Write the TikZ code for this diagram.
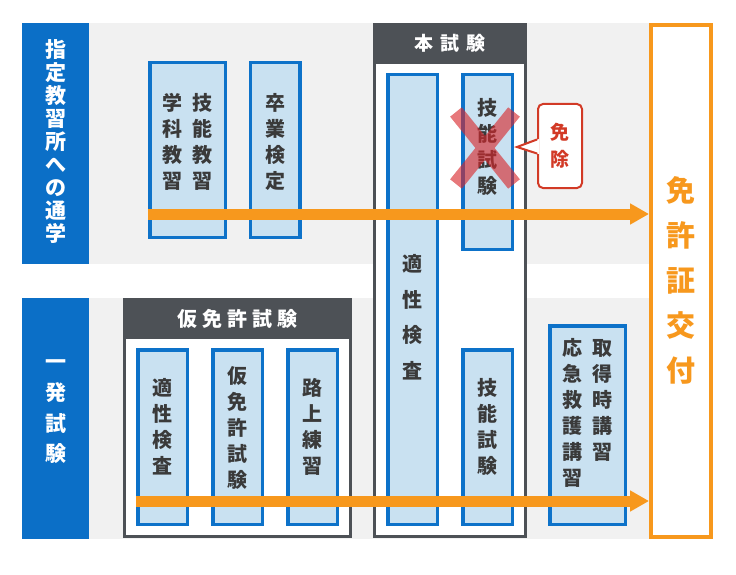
\documentclass[tikz,border=0pt]{standalone}
\usepackage{fontspec}
\setmainfont{Noto Sans CJK JP}
\usetikzlibrary{arrows.meta}
\definecolor{lblblue}{HTML}{0B6FC7}
\definecolor{boxblue}{HTML}{0D72C9}
\definecolor{boxfill}{HTML}{C9E1F1}
\definecolor{bggray}{HTML}{F1F1F1}
\definecolor{darkhead}{HTML}{4D5156}
\definecolor{lorange}{HTML}{F7981D}
\definecolor{xred}{HTML}{D9262A}
\definecolor{cred}{HTML}{D23A26}
\definecolor{txtgray}{HTML}{3A3A3A}
\begin{document}
\begin{tikzpicture}[x=1pt,y=-1pt,
  bbox/.style={draw=boxblue, fill=boxfill, line width=3.5pt, inner sep=0pt, rectangle},
  narrowbox/.style={bbox, minimum width=49.5pt},
  widebox/.style={bbox, minimum width=75.5pt},
  vtxt/.style={text=txtgray, font=\bfseries\fontsize{20}{26}\selectfont, align=center, inner sep=0pt},
  lbl/.style={fill=lblblue, inner sep=0pt, minimum width=67pt, minimum height=241pt, text=white, align=center},
  lbltxt/.style={text=white, align=center, inner sep=0pt},
  grpframe/.style={draw=darkhead, line width=3pt, fill=white, inner sep=0pt, minimum width=151pt, minimum height=237pt},
  grphead/.style={fill=darkhead, text=white, inner sep=0pt, font=\bfseries\fontsize{19}{22}\selectfont},
  licbox/.style={draw=lorange, line width=4pt, fill=white, inner sep=0pt, minimum width=60pt, minimum height=512pt},
  oarrow/.style={draw=lorange, line width=11pt, -{Triangle[length=19pt,width=20pt]}},
  xmark/.style={draw=xred, line width=15pt, opacity=0.62},
  callout/.style={draw=cred, line width=2pt, fill=white, rounded corners=5pt, inner sep=0pt, minimum width=44pt, minimum height=84pt, text=cred, align=center, font=\bfseries\fontsize{19}{27}\selectfont}
]
\useasboundingbox (0,0) rectangle (736,575);
\fill[white] (0,0) rectangle (736,575);
% background bands
\fill[bggray] (89,23) rectangle (649,264);
\fill[bggray] (89,298) rectangle (649,539);
% side labels
\node[lbl] (lab1) at (55.5,143.5) {};
\node[lbltxt, font=\bfseries\fontsize{21}{22.9}\selectfont] (lab1t) at (56,141.5) {指\\定\\教\\習\\所\\へ\\の\\通\\学};
\node[lbl] (lab2) at (55.5,418.5) {};
\node[lbltxt, font=\bfseries\fontsize{21}{30.7}\selectfont] (lab2t) at (56,412) {一\\発\\試\\験};
% group frames
\node[grpframe, minimum height=512pt] (hon) at (450,280.5) {};
\node[grphead, minimum width=154pt, minimum height=41pt] (honh) at (450,43.5) {本\kern7pt 試\kern7pt 験};
\node[grpframe, minimum width=226pt, minimum height=237pt] (kari) at (237.5,418) {};
\node[grphead, minimum width=229pt, minimum height=41pt, font=\bfseries\fontsize{20}{22}\selectfont] (karih) at (237.5,318.5) {仮\kern5pt 免\kern5pt 許\kern5pt 試\kern5pt 験};
% license box
\node[licbox] (lic) at (681,281) {};
\node[text=lorange, align=center, inner sep=0pt, font=\bfseries\fontsize{29}{45}\selectfont] (lict) at (681,280) {免\\許\\証\\交\\付};
% blue boxes
\node[widebox, minimum height=174.5pt] (bA) at (187.5,150) {};
\node[narrowbox, minimum height=174.5pt] (bB) at (275,150) {};
\node[narrowbox, minimum height=449.5pt] (bC) at (412.5,299.5) {};
\node[narrowbox, minimum height=174.5pt] (bD) at (487.5,162) {};
\node[narrowbox, minimum height=174.5pt] (bE) at (487.5,437) {};
\node[narrowbox, minimum height=174.5pt] (bF) at (162.5,437) {};
\node[narrowbox, minimum height=174.5pt] (bG) at (237.5,437) {};
\node[narrowbox, minimum height=174.5pt] (bH) at (312.5,437) {};
\node[widebox, minimum height=198.5pt] (bI) at (587.5,425) {};
% box texts
\node[vtxt] (tA1) at (202,142) {技\\能\\教\\習};
\node[vtxt] (tA2) at (172,142) {学\\科\\教\\習};
\node[vtxt] (tB) at (275,142) {卒\\業\\検\\定};
\node[vtxt, font=\bfseries\fontsize{20}{35.5}\selectfont] (tC) at (412.5,317) {適\\性\\検\\査};
\node[vtxt] (tD) at (487.5,147) {技\\能\\試\\験};
\node[vtxt] (tE) at (487.5,427) {技\\能\\試\\験};
\node[vtxt] (tF) at (162.5,427) {適\\性\\検\\査};
\node[vtxt] (tG) at (237.5,428) {仮\\免\\許\\試\\験};
\node[vtxt] (tH) at (312.5,427) {路\\上\\練\\習};
\node[vtxt] (tI1) at (602,400) {取\\得\\時\\講\\習};
\node[vtxt] (tI2) at (572,413) {応\\急\\救\\護\\講\\習};
% arrows
\coordinate (a1) at (148,214);
\coordinate (a2) at (136,501);
\draw[oarrow] (a1) -- (a1 -| lic.west);
\draw[oarrow] (a2) -- (a2 -| lic.west);
% cross mark
\draw[xmark] (456,112) -- (514,184) (514,112) -- (456,184);
% callout
\node[callout] (menjo) at (560,146) {免\\除};
\coordinate (ptip) at (517,147);
\fill[white] (539,139) -- (ptip) -- (539,154) -- cycle;
\draw[cred, line width=2pt, line join=miter] (menjo.west |- 0,139.5) -- (ptip) -- (menjo.west |- 0,153.5);
\end{tikzpicture}
\end{document}
